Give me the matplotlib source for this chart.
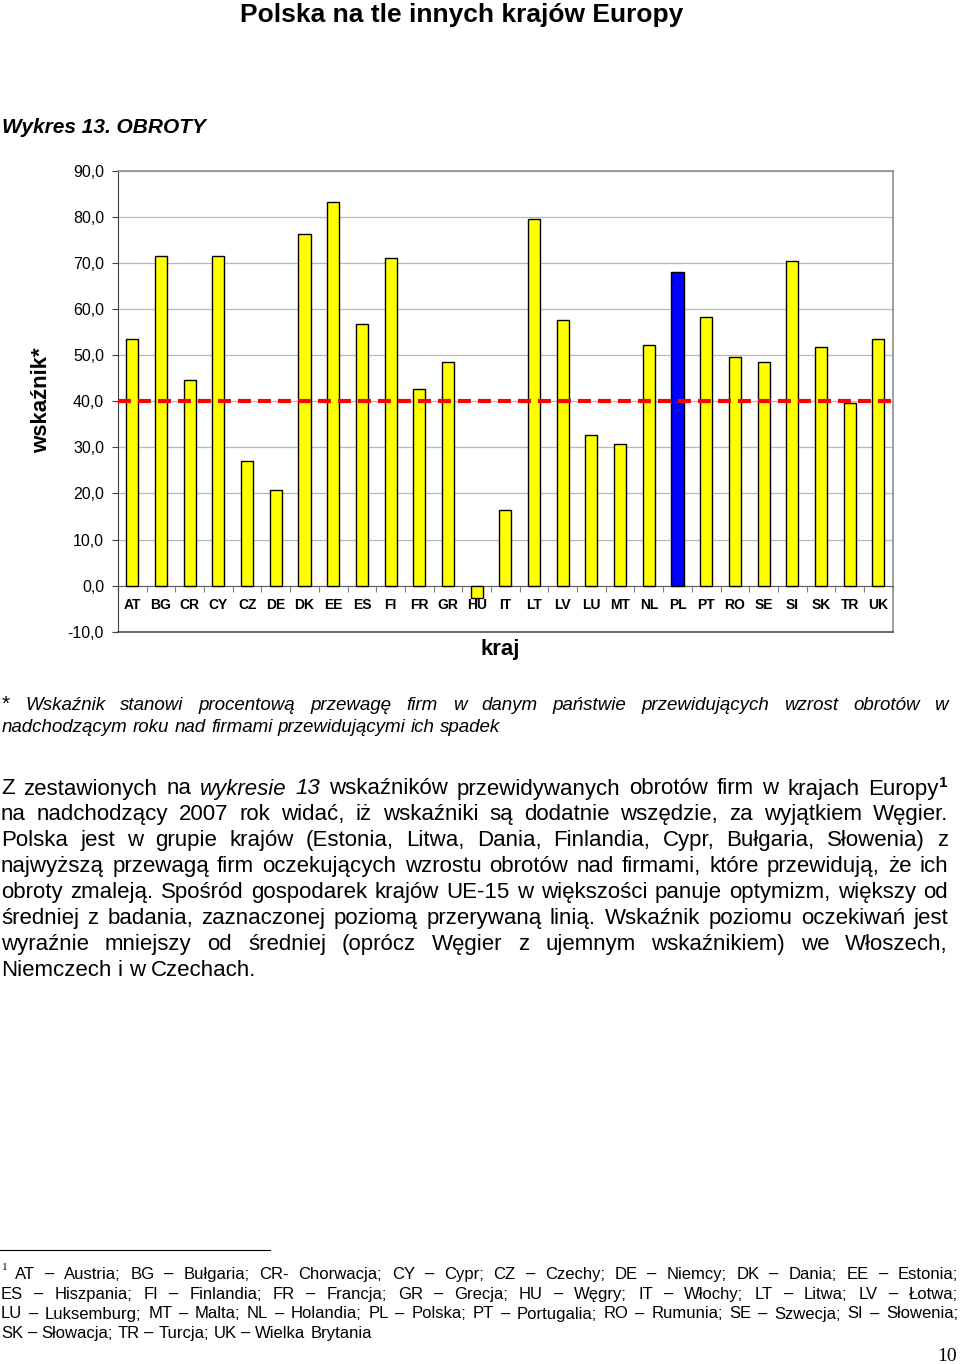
import matplotlib
matplotlib.use('Agg')
import matplotlib.pyplot as plt
from matplotlib.ticker import FuncFormatter, FixedLocator

# ---------------- data ----------------
countries = ['AT', 'BG', 'CR', 'CY', 'CZ', 'DE', 'DK', 'EE', 'ES', 'FI', 'FR', 'GR', 'HU',
             'IT', 'LT', 'LV', 'LU', 'MT', 'NL', 'PL', 'PT', 'RO', 'SE', 'SI', 'SK', 'TR', 'UK']
values = [53.6, 71.6, 44.5, 71.6, 27.1, 20.7, 76.3, 83.3, 56.7, 71.1, 42.7, 48.5, -2.7,
          16.4, 79.6, 57.6, 32.6, 30.7, 52.1, 68.0, 58.3, 49.6, 48.5, 70.5, 51.8, 39.7, 53.4]
average = 40.0
highlight = 'PL'
yticks = [-10, 0, 10, 20, 30, 40, 50, 60, 70, 80, 90]

title = 'Polska na tle innych krajów Europy'
chart_title = 'Wykres 13. OBROTY'
ylabel = 'wskaźnik*'
xlabel = 'kraj'

note_lines = [
    '* Wskaźnik stanowi procentową przewagę firm w danym państwie przewidujących wzrost obrotów w',
    'nadchodzącym roku nad firmami przewidującymi ich spadek',
]
body_lines = [
    'Z zestawionych na wykresie 13 wskaźników przewidywanych obrotów firm w krajach Europy',
    'na nadchodzący 2007 rok widać, iż wskaźniki są dodatnie wszędzie, za wyjątkiem Węgier.',
    'Polska jest w grupie krajów (Estonia, Litwa, Dania, Finlandia, Cypr, Bułgaria, Słowenia) z',
    'najwyższą przewagą firm oczekujących wzrostu obrotów nad firmami, które przewidują, że ich',
    'obroty zmaleją. Spośród gospodarek krajów UE-15 w większości panuje optymizm, większy od',
    'średniej z badania, zaznaczonej poziomą przerywaną linią. Wskaźnik poziomu oczekiwań jest',
    'wyraźnie mniejszy od średniej (oprócz Węgier z ujemnym wskaźnikiem) we Włoszech,',
    'Niemczech i w Czechach.',
]
foot_lines = [
    'AT – Austria; BG – Bułgaria; CR- Chorwacja; CY – Cypr; CZ – Czechy; DE – Niemcy; DK – Dania; EE – Estonia;',
    'ES – Hiszpania; FI – Finlandia; FR – Francja; GR – Grecja; HU – Węgry; IT – Włochy; LT – Litwa; LV – Łotwa;',
    'LU – Luksemburg; MT – Malta; NL – Holandia; PL – Polska; PT – Portugalia; RO – Rumunia; SE – Szwecja; SI – Słowenia;',
    'SK – Słowacja; TR – Turcja; UK – Wielka Brytania',
]
page_number = '10'

# ---------------- figure ----------------
W, H = 960, 1364
SANS = 'Liberation Sans'
SERIF = 'Liberation Serif'
plt.rcParams['font.family'] = [SANS, 'DejaVu Sans']

fig = plt.figure(figsize=(W / 100, H / 100), dpi=100)
renderer = fig.canvas.get_renderer()


def fx(x):
    return x / W


def fy(y):
    return 1 - y / H


# ---------------- chart ----------------
left, right, top, bottom = 118, 892.7, 170.7, 631.7
ax = fig.add_axes([fx(left), fy(bottom), (right - left) / W, (bottom - top) / H])
x = list(range(len(countries)))
colors = ['#0000FF' if c == highlight else '#FFFF00' for c in countries]
ax.bar(x, values, width=0.42, color=colors, edgecolor='black', linewidth=1.0, zorder=3)
ax.axhline(average, color='#FF0000', lw=3.0, linestyle=(0, (3.1, 1.7)), zorder=4, clip_on=False)

ax.set_xlim(-0.5, len(countries) - 0.5)
ax.set_ylim(-10, 90)
ax.set_axisbelow(True)
ax.yaxis.grid(True, color='#b8b8b8', lw=0.9)

ax.set_yticks(yticks)
ax.yaxis.set_major_formatter(FuncFormatter(lambda v, p: f'{v:.1f}'.replace('.', ',')))
ax.tick_params(axis='y', length=4, width=0.8, color='#404040', pad=6, labelsize=11.5)

ax.spines['bottom'].set_position(('data', 0))
ax.spines['bottom'].set_color('#606060')
ax.spines['left'].set_color('#404040')
ax.spines['top'].set_color('#909090')
ax.spines['right'].set_color('#909090')
ax.spines['top'].set_linewidth(1.2)
ax.spines['right'].set_linewidth(1.2)
ax.axhline(-10, color='#505050', lw=1.2, clip_on=False, zorder=5)

ax.set_xticks(x)
ax.set_xticklabels(countries, fontsize=10, fontweight='bold')
ax.tick_params(axis='x', which='major', length=0, pad=9)
ax.xaxis.set_minor_locator(FixedLocator([i + 0.5 for i in range(-1, len(countries))]))
ax.tick_params(axis='x', which='minor', length=4, width=0.8, color='#808080', direction='out')

fig.text(fx(42), fy(400), ylabel, rotation=90, fontsize=16, fontweight='bold',
         ha='center', va='center')
fig.text(fx(500), fy(655), xlabel, fontsize=16, fontweight='bold', ha='center', va='baseline')

fig.text(fx(462), fy(22), title, fontsize=19, fontweight='bold', ha='center', va='baseline')
fig.text(fx(2), fy(133), chart_title, fontsize=15, fontweight='bold', fontstyle='italic',
         ha='left', va='baseline')


# ---------------- justified text helper ----------------
def measure(s, **kw):
    t = fig.text(0, 0, s, **kw)
    w = t.get_window_extent(renderer).width
    t.remove()
    return w


def draw_line(words, y, x0, x1, justify, base):
    """words: list of list of (text, kwargs, dy_px)"""
    widths = []
    for w in words:
        widths.append(sum(measure(s, **{**base, **kw}) for s, kw, dy in w) + (len(w) - 1) * 1.0)
    if justify and len(words) > 1:
        gap = (x1 - x0 - sum(widths)) / (len(words) - 1)
    else:
        gap = measure('x x', **base) - measure('xx', **base)
    xp = x0
    for w, wd in zip(words, widths):
        xs = xp
        for s, kw, dy in w:
            k = {**base, **kw}
            fig.text(fx(xs), fy(y - dy), s, ha='left', va='baseline', **k)
            xs += measure(s, **k) + 1.0
        xp += wd + gap


def plain(line, kw=None):
    return [[(wd, kw or {}, 0)] for wd in line.split(' ')]


# note (italic)
base_note = dict(fontsize=13.5, fontstyle='italic', family=[SANS, 'DejaVu Sans'])
w1 = plain(note_lines[0])
w1[0] = [('*', dict(fontstyle='normal', fontsize=15), 0)]
draw_line(w1, 710, 2, 948, True, base_note)
draw_line(plain(note_lines[1]), 732, 2, 948, False, base_note)

# body
base_body = dict(fontsize=16, family=[SANS, 'DejaVu Sans'])
body_y = [794.5, 820.4, 846.3, 872.2, 898.1, 924.0, 949.9, 975.8]
for i, line in enumerate(body_lines):
    words = plain(line)
    if i == 0:
        it = dict(fontstyle='italic')
        words[3] = [('wykresie', it, 0)]
        words[4] = [('13', it, 0)]
        words[-1] = [('Europy', {}, 0), ('1', dict(fontsize=11, fontweight='bold'), 8)]
    draw_line(words, body_y[i], 1, 948, i < len(body_lines) - 1, base_body)

# footnote
fig.add_artist(plt.Line2D([fx(0), fx(270)], [fy(1250), fy(1250)], color='black', lw=0.8))
fig.text(fx(2), fy(1270), '1', fontsize=8, family=SERIF, ha='left', va='baseline')
base_foot = dict(fontsize=12, family=[SANS, 'DejaVu Sans'])
foot_y = [1279, 1299, 1318.5, 1338]
for i, line in enumerate(foot_lines):
    x0 = 15 if i == 0 else 1
    draw_line(plain(line), foot_y[i], x0, 958, i < len(foot_lines) - 1, base_foot)

fig.text(fx(957), fy(1361), page_number, fontsize=14, family=SERIF, ha='right', va='baseline')

fig.savefig('out.png', dpi=100)
